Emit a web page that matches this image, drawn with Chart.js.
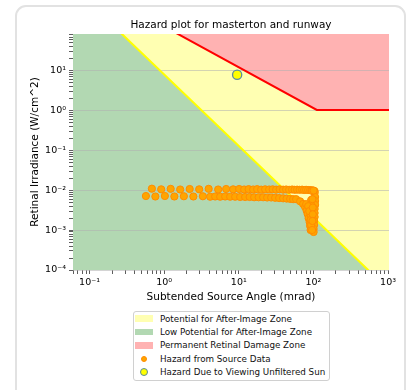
<!DOCTYPE html>
<html>
<head>
<meta charset="utf-8">
<script src="https://cdn.jsdelivr.net/npm/chart.js@4.4.1/dist/chart.umd.min.js"></script>
<style>
html,body{margin:0;padding:0;background:#fff;width:408px;height:390px;overflow:hidden;font-family:"DejaVu Sans",sans-serif;}
#card{position:absolute;left:15px;top:5px;width:391px;height:430px;border:2px solid #e2e2e2;border-radius:11px;box-sizing:border-box;}
#chart{position:absolute;left:0;top:0;}
#legend{position:absolute;left:133px;top:311px;width:197px;height:70px;box-sizing:border-box;border:1px solid #d0d0d0;border-radius:3px;background:#fff;font-size:8.75px;color:#111;}
.row{position:absolute;left:0;width:195px;height:12px;line-height:12px;white-space:nowrap;}
.row .txt{position:absolute;left:26px;top:0;}
.patch{position:absolute;left:1px;top:2.75px;width:18px;height:6.5px;}
.dot{position:absolute;border-radius:50%;box-sizing:border-box;}
</style>
</head>
<body>
<div id="card"></div>
<canvas id="chart" width="408" height="390" style="width:408px;height:390px"></canvas>
<div id="legend"></div>
<script>
// ---- axis limits and tick labels ----
const xLimits = [0.06, 1030];
const yLimits = [1e-4, 84];
const xMajorTicks = [0.1, 1, 10, 100, 1000];
const xTickLabels = ['10⁻¹', '10⁰', '10¹', '10²', '10³'];
const yMajorTicks = [1e-4, 1e-3, 1e-2, 1e-1, 1, 10];
const yTickLabels = ['10⁻⁴', '10⁻³', '10⁻²', '10⁻¹', '10⁰', '10¹'];

// ---- series labels ----
const seriesLabels = [
  'Potential for After-Image Zone',
  'Low Potential for After-Image Zone',
  'Permanent Retinal Damage Zone',
  'Hazard from Source Data',
  'Hazard Due to Viewing Unfiltered Sun'
];

// ---- zone boundaries ----
const zoneBoundaryX = [0.06, 111, 1030];
const afterImageLimitY = [1260, 0.00172, 0.0000315];
const retinalDamageLimitY = [2320, 1.04, 1.04];

// ---- hazard from source data ----
const sourceUpperX = [0.684, 0.912, 1.222, 1.638, 2.196, 2.944, 3.946, 5.29, 6.768, 8.402, 10.11, 11.8, 13.55, 15.57, 17.61, 19.93, 22.54, 25.5, 28.41, 31.65, 35.26, 39.28, 43.08, 47.26, 51.84, 56.01, 60.48, 65.34, 70.56, 75.05, 79.82, 84.92, 90.32, 94.6, 99.08, 103.8];
const sourceUpperY = [0.0110, 0.0106, 0.0109, 0.0105, 0.0108, 0.0106, 0.0109, 0.0105, 0.0108, 0.0106, 0.0108, 0.0105, 0.0107, 0.0105, 0.0107, 0.0104, 0.0106, 0.0105, 0.0106, 0.0104, 0.0106, 0.0104, 0.0105, 0.0103, 0.0105, 0.0103, 0.0104, 0.0103, 0.0104, 0.0102, 0.0103, 0.0102, 0.0101, 0.0100, 0.0098, 0.0095];
const sourceLowerX = [0.569, 0.762, 1.022, 1.369, 1.836, 2.461, 3.3, 4.132, 4.823, 5.627, 6.564, 7.659, 8.936, 10.43, 12.16, 13.98, 16.06, 18.45, 21.2, 23.98, 27.13, 30.69, 34.72, 39.28, 43.75, 48.75, 53.48];
const sourceLowerY = [0.0072, 0.0070, 0.0072, 0.0070, 0.0071, 0.0070, 0.0071, 0.0069, 0.0070, 0.0069, 0.0070, 0.0069, 0.0069, 0.0068, 0.0068, 0.0068, 0.0067, 0.0067, 0.0067, 0.0066, 0.0066, 0.0065, 0.0064, 0.0063, 0.0062, 0.0061, 0.0060];
const sourceDropX = [58.65, 66.35, 72.78, 77.42, 81.1, 83.6, 86.2, 88.9, 90.3, 91.7,
  103.8, 105.4, 105.4, 105.4, 103.8, 103.8, 103.8, 102.2, 102.2, 100.6, 100.6,
  93.2, 93.2, 93.2, 91.7, 91.7, 93.2, 96.1,
  96.1, 100.6,
  80, 85, 88, 97, 98, 98, 97];
const sourceDropY = [0.0060, 0.0053, 0.00455, 0.0038, 0.0031, 0.00255, 0.0020, 0.0016, 0.00128, 0.00101,
  0.0086, 0.0068, 0.0054, 0.0043, 0.0034, 0.0027, 0.00215, 0.0017, 0.00135, 0.00107, 0.0009,
  0.0057, 0.0043, 0.0032, 0.0024, 0.0018, 0.00135, 0.00101,
  0.0097, 0.0099,
  0.0045, 0.0040, 0.0030, 0.0060, 0.0037, 0.0025, 0.0017];

// ---- hazard due to viewing the sun ----
const sunX = [9.5];
const sunY = [8.0];

// ---- colours ----
const zoneColors = ['#ffffb2', '#b2d8b2', '#ffb2b2'];
const FONT = "'DejaVu Sans', sans-serif";

const pts = (xs, ys) => xs.map((x, i) => ({x: x, y: ys[i]}));
const sourcePts = pts(sourceUpperX, sourceUpperY).concat(pts(sourceLowerX, sourceLowerY), pts(sourceDropX, sourceDropY));

function logTicks(lim, majors) {
  const out = [];
  const e0 = Math.floor(Math.log10(lim[0])), e1 = Math.ceil(Math.log10(lim[1]));
  for (let e = e0; e <= e1; e++) {
    for (let m = 1; m <= 9; m++) {
      let v = Number((m * Math.pow(10, e)).toPrecision(6));
      if (m === 1) {
        const mj = majors.find(t => Math.abs(Math.log10(t) - e) < 1e-9);
        if (mj !== undefined) v = mj;
      }
      if (v >= lim[0] - 1e-12 && v <= lim[1] * (1 + 1e-9)) out.push({value: v, major: m === 1});
    }
  }
  return out;
}

Chart.defaults.font.family = FONT;
Chart.defaults.color = '#000';

const chart = new Chart(document.getElementById('chart'), {
  type: 'line',
  data: {
    datasets: [
      {label: seriesLabels[0], data: pts(zoneBoundaryX, afterImageLimitY), borderColor: '#ffff00', borderWidth: 2,
       backgroundColor: zoneColors[0], fill: 2, pointRadius: 0, order: 3},
      {label: seriesLabels[1], data: pts(zoneBoundaryX, afterImageLimitY), borderColor: 'rgba(0,0,0,0)', borderWidth: 0,
       backgroundColor: zoneColors[1], fill: 'start', pointRadius: 0, order: 4},
      {label: seriesLabels[2], data: pts(zoneBoundaryX, retinalDamageLimitY), borderColor: '#ff0000', borderWidth: 2,
       backgroundColor: zoneColors[2], fill: 'end', pointRadius: 0, order: 2},
      {label: seriesLabels[3], data: sourcePts, showLine: false, pointRadius: 3.6, pointBorderWidth: 1,
       pointBackgroundColor: '#ffa500', pointBorderColor: '#ff8c00', backgroundColor: '#ff8c00', borderColor: '#ff8c00', order: 1},
      {label: seriesLabels[4], data: pts(sunX, sunY), showLine: false, pointRadius: 4.6, pointBorderWidth: 1.3,
       pointBackgroundColor: '#ffff00', pointBorderColor: '#5b8ca0', backgroundColor: '#ffff00', borderColor: '#5b8ca0', order: 0}
    ]
  },
  options: {
    responsive: false,
    animation: false,
    events: [],
    layout: {padding: {left: 0, right: 19, top: 0, bottom: 80}},
    plugins: {
      legend: {display: false},
      tooltip: {enabled: false},
      filler: {drawTime: 'beforeDraw'},
      title: {display: true, text: 'Hazard plot for masterton and runway', fullSize: false, color: '#000',
              font: {family: FONT, size: 10.5, weight: 'normal'}, padding: {top: 18.7, bottom: 2.7}}
    },
    scales: {
      x: {
        type: 'logarithmic', min: xLimits[0], max: xLimits[1],
        afterFit: s => { s.height = 40; },
        afterBuildTicks: s => { s.ticks = logTicks(xLimits, xMajorTicks); },
        ticks: {autoSkip: false, maxRotation: 0, minRotation: 0, padding: 3, color: '#000',
                font: {family: FONT, size: 9.5},
                callback: v => { const i = xMajorTicks.indexOf(v); return i >= 0 ? xTickLabels[i] : ''; }},
        grid: {drawOnChartArea: false, tickLength: 4, tickColor: '#333', lineWidth: 0.8},
        border: {display: false},
        title: {display: true, text: 'Subtended Source Angle (mrad)', color: '#000',
                font: {family: FONT, size: 10.5}, padding: {top: 0, bottom: 6.7}}
      },
      y: {
        type: 'logarithmic', min: yLimits[0], max: yLimits[1],
        afterFit: s => { s.width = 73; },
        afterBuildTicks: s => { s.ticks = logTicks(yLimits, yMajorTicks); },
        ticks: {autoSkip: false, padding: 3, color: '#000', font: {family: FONT, size: 9.5},
                callback: v => { const i = yMajorTicks.indexOf(v); return i >= 0 ? yTickLabels[i] : ''; }},
        grid: {
          color: c => (c.tick && yMajorTicks.indexOf(c.tick.value) >= 0) ? 'rgba(176,176,176,0.55)' : 'rgba(0,0,0,0)',
          lineWidth: 1, tickColor: '#333', tickWidth: 0.8, tickLength: 4
        },
        border: {display: false},
        title: {display: true, text: 'Retinal Irradiance (W/cm^2)', color: '#000',
                font: {family: FONT, size: 10.5}, padding: {top: 28.7, bottom: 0}}
      }
    }
  }
});

// ---- HTML legend built from the datasets ----
const legendEl = document.getElementById('legend');
chart.data.datasets.forEach((ds, i) => {
  const row = document.createElement('div');
  row.className = 'row';
  row.style.top = (0.7 + i * 13.33) + 'px';
  const sw = document.createElement('span');
  if (i < 3) {
    sw.className = 'patch';
    sw.style.background = ds.backgroundColor;
  } else if (i === 3) {
    sw.className = 'dot';
    sw.style.cssText += 'left:7px;top:3px;width:6px;height:6px;background:' + ds.pointBackgroundColor + ';border:1px solid ' + ds.pointBorderColor + ';';
  } else {
    sw.className = 'dot';
    sw.style.cssText += 'left:5.6px;top:1.6px;width:8.8px;height:8.8px;background:' + ds.pointBackgroundColor + ';border:1.2px solid ' + ds.pointBorderColor + ';';
  }
  const tx = document.createElement('span');
  tx.className = 'txt';
  tx.textContent = ds.label;
  row.appendChild(sw);
  row.appendChild(tx);
  legendEl.appendChild(row);
});
</script>
</body>
</html>
